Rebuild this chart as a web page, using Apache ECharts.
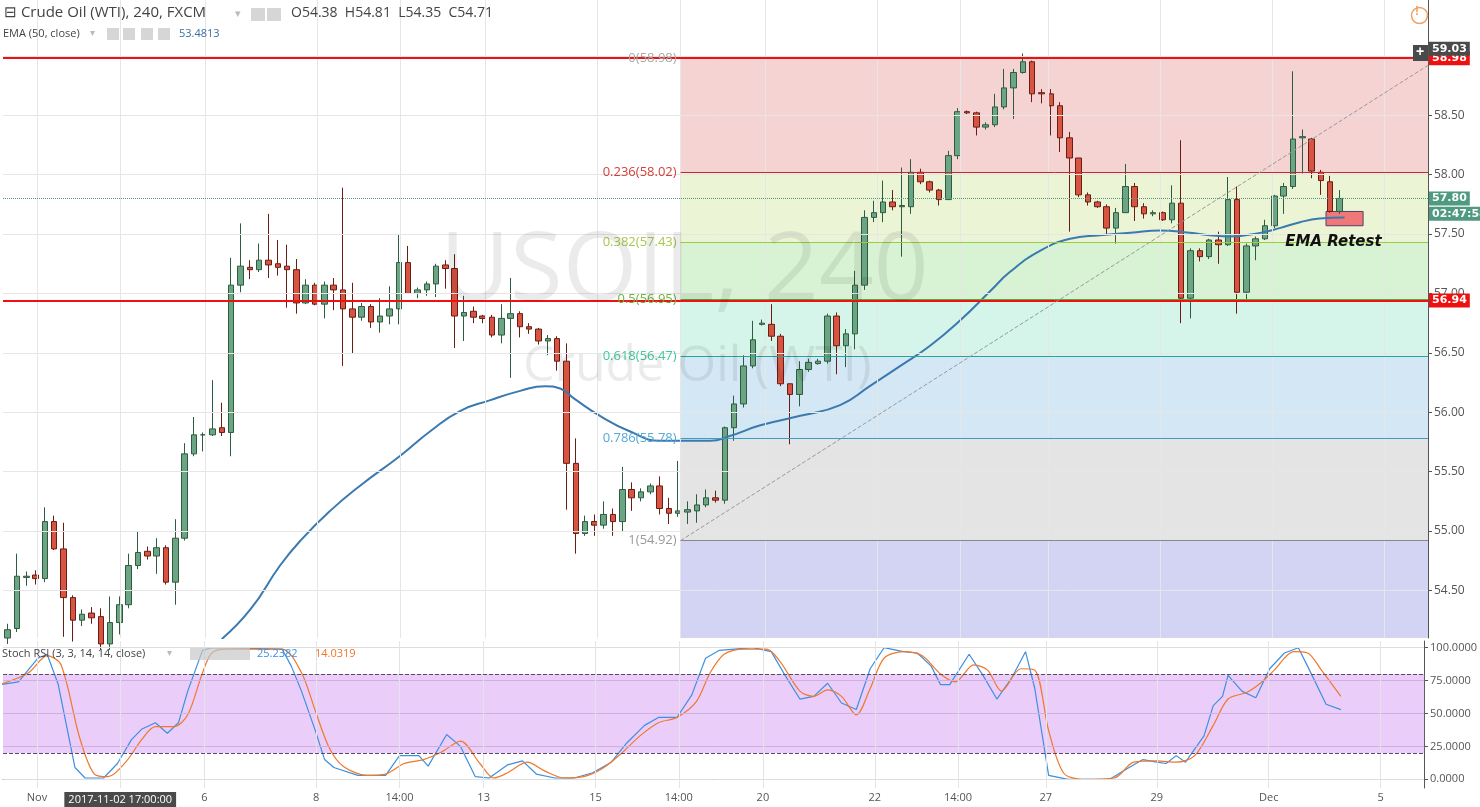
<!DOCTYPE html>
<html>
<head>
<meta charset="utf-8">
<script src="https://cdn.jsdelivr.net/npm/echarts@6/dist/echarts.min.js"></script>
<style>
  html, body { margin: 0; padding: 0; background: #fff; }
  #chart { width: 1480px; height: 807px; }
</style>
</head>
<body>
<div id="chart"></div>
<script>
var myChart = echarts.init(document.getElementById('chart'));

// 4h candles, [open, high, low, close]
var ohlc = [
  [54.10,54.22,54.05,54.17],[54.18,54.81,54.15,54.62],[54.61,54.66,54.54,54.62],[54.63,54.67,54.55,54.60],
  [54.60,55.20,54.57,55.08],[55.08,55.13,54.84,54.85],[54.85,55.07,54.11,54.44],[54.44,54.46,54.07,54.25],
  [54.25,54.34,54.20,54.30],[54.31,54.36,54.22,54.27],[54.28,54.35,54.00,54.05],[54.05,54.45,54.00,54.23],
  [54.23,54.45,54.13,54.38],[54.38,54.81,54.35,54.71],[54.71,55.00,54.68,54.82],[54.83,54.87,54.76,54.79],
  [54.79,54.94,54.64,54.86],[54.86,54.88,54.55,54.57],[54.57,55.10,54.38,54.94],[54.94,55.74,54.92,55.65],
  [55.65,55.96,55.63,55.81],[55.81,55.83,55.67,55.81],[55.81,56.27,55.80,55.86],[55.87,56.08,55.80,55.83],
  [55.83,57.30,55.63,57.07],[57.07,57.59,57.01,57.23],[57.22,57.28,57.12,57.20],[57.20,57.42,57.18,57.28],
  [57.28,57.67,57.13,57.24],[57.25,57.45,57.15,57.22],[57.23,57.41,56.88,57.20],[57.20,57.29,56.83,56.92],
  [56.92,57.12,56.91,57.07],[57.07,57.09,56.90,56.91],[56.91,57.10,56.79,57.07],[57.07,57.13,56.86,57.03],
  [57.03,57.89,56.39,56.87],[56.87,57.09,56.49,56.80],[56.80,56.92,56.77,56.89],[56.89,56.91,56.71,56.76],
  [56.76,56.96,56.67,56.81],[56.81,57.06,56.74,56.87],[56.87,57.50,56.74,57.26],[57.26,57.40,57.00,57.00],
  [57.00,57.05,56.96,57.03],[57.03,57.10,56.98,57.08],[57.08,57.25,56.97,57.23],[57.24,57.28,57.04,57.21],
  [57.21,57.33,56.54,56.81],[56.81,56.98,56.60,56.84],[56.85,56.89,56.75,56.80],[56.81,56.82,56.75,56.79],
  [56.80,56.82,56.63,56.65],[56.65,56.91,56.58,56.79],[56.79,57.13,56.29,56.83],[56.83,56.85,56.63,56.72],
  [56.72,56.75,56.66,56.70],[56.70,56.71,56.57,56.60],[56.60,56.65,56.48,56.62],[56.62,56.64,56.35,56.43],
  [56.43,56.58,55.18,55.57],[55.57,55.78,54.81,54.98],[54.98,55.13,54.96,55.08],[55.08,55.14,54.96,55.05],
  [55.05,55.25,55.02,55.14],[55.14,55.19,54.96,55.08],[55.08,55.54,55.00,55.35],[55.35,55.41,55.17,55.28],
  [55.28,55.36,55.25,55.33],[55.33,55.40,55.31,55.38],[55.38,55.46,55.14,55.19],[55.19,55.28,55.06,55.15],
  [55.15,55.59,55.12,55.17],[55.16,55.25,55.06,55.18],[55.17,55.31,55.07,55.22],[55.22,55.35,55.20,55.28],
  [55.28,55.34,55.24,55.26],[55.26,55.88,55.23,55.87],[55.87,56.14,55.76,56.07],[56.07,56.48,56.04,56.39],
  [56.39,56.77,56.37,56.61],[56.74,56.78,56.73,56.75],[56.74,56.91,56.60,56.64],[56.64,56.66,56.22,56.24],
  [56.24,56.24,55.73,56.15],[56.15,56.43,56.05,56.36],[56.36,56.45,56.34,56.42],[56.41,56.45,56.40,56.43],
  [56.43,56.83,56.41,56.81],[56.81,56.84,56.32,56.56],[56.56,56.70,56.38,56.66],[56.66,57.19,56.53,57.07],
  [57.07,57.70,57.03,57.64],[57.64,57.78,57.60,57.68],[57.68,57.95,57.60,57.77],[57.77,57.87,57.70,57.73],
  [57.73,58.06,57.31,57.74],[57.73,58.13,57.67,58.02],[58.02,58.05,57.92,57.94],[57.94,57.95,57.85,57.87],
  [57.87,57.88,57.74,57.79],[57.79,58.20,57.79,58.16],[58.16,58.56,58.13,58.53],[58.53,58.54,58.51,58.52],
  [58.52,58.53,58.33,58.40],[58.40,58.44,58.38,58.42],[58.42,58.68,58.40,58.57],[58.57,58.89,58.55,58.73],
  [58.73,58.89,58.47,58.86],[58.86,59.02,58.85,58.95],[58.95,58.96,58.61,58.68],[58.69,58.72,58.60,58.68],
  [58.68,58.72,58.33,58.58],[58.58,58.61,58.19,58.31],[58.31,58.36,57.52,58.14],[58.14,58.14,57.81,57.83],
  [57.83,57.85,57.74,57.77],[57.77,57.78,57.72,57.73],[57.73,57.75,57.50,57.55],[57.55,57.72,57.42,57.68],
  [57.68,58.09,57.68,57.90],[57.90,57.93,57.61,57.73],[57.73,57.76,57.63,57.67],[57.67,57.70,57.65,57.68],
  [57.68,57.69,57.61,57.62],[57.62,57.91,57.59,57.76],[57.76,58.29,56.75,56.96],[56.96,57.38,56.79,57.36],
  [57.36,57.38,57.27,57.31],[57.31,57.46,57.29,57.45],[57.45,57.52,57.25,57.41],[57.41,57.98,57.40,57.79],
  [57.79,57.90,56.83,57.01],[57.01,57.42,56.95,57.40],[57.40,57.48,57.28,57.46],[57.46,57.62,57.45,57.57],
  [57.57,57.83,57.55,57.82],[57.82,57.93,57.67,57.90],[57.90,58.87,57.88,58.30],[58.31,58.38,58.01,58.32],
  [58.30,58.31,57.97,58.03],[58.02,58.04,57.83,57.95],[57.94,57.99,57.68,57.69],[57.69,57.87,57.67,57.80]
];
var barCount = 153;

// EMA(50): [bar position, price]
var ema = [
  [23.9,54.09],[27.0,54.34],[30.2,54.71],[32.4,54.92],[35.6,55.17],[38.8,55.38],[43.1,55.63],[46.4,55.84],
  [49.6,56.01],[52.8,56.10],[56.1,56.18],[58.8,56.22],[60.4,56.20],[62.0,56.11],[64.7,55.97],[67.9,55.84],
  [71.2,55.76],[74.4,55.76],[76.6,55.76],[78.7,55.80],[82.0,55.89],[86.3,55.97],[90.6,56.06],[93.8,56.22],
  [97.1,56.39],[100.3,56.56],[103.5,56.77],[106.8,57.02],[108.9,57.18],[112.2,57.36],[115.4,57.46],[118.6,57.49],
  [121.9,57.51],[125.1,57.53],[128.3,57.51],[130.5,57.49],[132.6,57.48],[135.9,57.51],[138.0,57.55],[140.2,57.60],
  [142.3,57.63],[145.0,57.64]
];

// Stoch RSI K (blue) and D (orange): [bar position, value]
var stochK = [
  [0,72],[2.0,74],[4.1,92],[5.1,95],[6.3,72],[8.1,9],[9.2,1],[11.2,1],[12.7,12],[14.2,30],[15.3,38],[16.8,43],
  [18.1,35],[19.3,43],[20.3,67],[21.9,98],[22.9,100],[30.5,99],[31.5,86],[32.6,67],[34.1,37],[35.1,15],[36.1,9],
  [38.7,3],[41.7,3],[43.2,18],[45.3,18],[46.3,10],[48.3,34],[49.8,25],[51.4,2],[52.9,1],[54.9,11],[56.5,14],
  [58.0,4],[60.0,1],[62.1,1],[64.1,5],[66.1,13],[67.7,27],[69.7,41],[71.2,47],[73.2,47],[74.8,64],[76.3,92],
  [77.8,98],[81.4,100],[83.4,97],[84.9,79],[86.5,61],[88.0,63],[89.5,73],[91.0,58],[92.6,53],[94.1,84],[95.6,100],
  [97.7,97],[99.2,96],[100.7,86],[101.7,72],[102.7,72],[104.8,95],[106.3,79],[107.8,61],[109.4,77],[110.9,97],
  [111.9,69],[113.4,3],[115.5,0],[120.0,0],[122.1,9],[123.6,15],[125.1,13],[126.1,12],[127.2,18],[128.2,13],
  [130.2,33],[131.2,56],[132.2,63],[132.8,79],[134.3,67],[135.8,62],[137.3,84],[138.9,96],[140.4,100],[141.4,86],
  [143.4,57],[145.0,53]
];
var stochD = [
  [0,72],[3.1,81],[5.1,94],[6.6,87],[8.6,32],[10.2,4],[11.7,2],[13.7,14],[15.3,30],[16.8,40],[18.8,40],[20.3,49],
  [21.9,81],[22.9,96],[24.4,99],[30.5,99],[32.6,81],[34.1,52],[35.6,24],[37.1,10],[39.7,3],[41.7,4],[43.7,12],
  [45.8,15],[47.8,21],[49.8,29],[51.9,12],[53.4,1],[54.9,5],[57.0,13],[59.0,6],[61.0,1],[63.1,2],[65.1,8],[67.1,19],
  [69.2,33],[71.2,43],[73.2,47],[75.3,59],[76.8,81],[78.3,95],[80.4,99],[82.9,99],[84.4,89],[86.5,67],[88.0,63],
  [89.5,68],[91.0,63],[92.6,49],[94.1,69],[95.6,92],[97.7,97],[99.7,94],[101.7,80],[103.3,74],[105.3,87],[106.8,83],
  [108.3,67],[110.4,84],[111.9,83],[113.4,37],[115.0,5],[117.0,0],[120.5,1],[122.6,13],[125.1,14],[127.2,13],
  [129.2,18],[131.2,41],[132.8,61],[134.8,66],[136.3,73],[137.8,83],[139.9,97],[141.4,96],[142.9,83],[145.0,63]
];

// Fibonacci retracement
var fibLevels = [0, 0.236, 0.382, 0.5, 0.618, 0.786, 1];
var fibPrices = [58.98, 58.02, 57.43, 56.95, 56.47, 55.78, 54.92];
var fibColors = ['#e57373', '#c62828', '#9ccc3c', '#5aa83a', '#26a69a', '#3d9bc8', '#888888'];
var fibLabelColors = ['#a9a9a9', '#d0413a', '#a8c84a', '#6cb33f', '#3ec9a0', '#55a8d8', '#9a9a9a'];
var fibZones = ['#f5d3d3', '#ebf5d6', '#d7f3d3', '#d5f4ea', '#d3e8f4', '#e4e4e4', '#d3d3f4'];
var fibStart = 73.4;
var priceMin = 54.10, priceMax = 59.47;

var priceTicks = [54.5, 55, 55.5, 56, 56.5, 57, 57.5, 58, 58.5, 59];
var stochTicks = [0, 25, 50, 75, 100];
var tickPos = [4.0, 13.0, 22.1, 34.2, 43.2, 52.3, 64.4, 73.4, 82.5, 94.6, 103.6, 113.1, 125.1, 137.2, 149.3];
var tickText = ['Nov', '2017-11-02 17:00:00', '6', '8', '14:00', '13', '15', '14:00', '20', '22', '14:00', '27', '29', 'Dec', '5'];

var categories = [];
for (let i = 0; i < barCount; i++) categories.push(String(i));

var candleData = ohlc.map(function (r) { return [r[0], r[3], r[2], r[1]]; });

var zoneAreas = [];
for (let i = 0; i < fibPrices.length; i++) {
    var lower = i < fibPrices.length - 1 ? fibPrices[i + 1] : priceMin;
    zoneAreas.push([
        { coord: [fibStart, fibPrices[i]], itemStyle: { color: fibZones[i] } },
        { coord: [154, lower] }
    ]);
}
var fibLines = fibPrices.map(function (p, i) {
    return [
        { coord: [fibStart, p], lineStyle: { color: fibColors[i], width: 1, type: 'solid' },
          label: { show: true, position: 'start', distance: 4, color: fibLabelColors[i], fontSize: 13,
                   formatter: fibLevels[i] + '(' + p.toFixed(2) + ')' } },
        { coord: [154, p] }
    ];
});
var gridLinesH = priceTicks.map(function (p) {
    return { yAxis: p, lineStyle: { color: '#e6e6e6', width: 1, type: 'solid' }, label: { show: false } };
});
var gridLinesV = tickPos.map(function (x) {
    return { xAxis: x, lineStyle: { color: '#e6e6e6', width: 1, type: 'solid' }, label: { show: false } };
});
var stochGridH = stochTicks.map(function (v) {
    return { yAxis: v, lineStyle: { color: v === 0 || v === 100 ? '#dddddd' : '#cdb0e0', width: 1, type: 'solid' }, label: { show: false } };
});

function priceTag(value, text, bg) {
    return [
        { coord: [153.9, value], lineStyle: { color: 'rgba(0,0,0,0)', width: 0 },
          label: { show: true, position: 'end', distance: 1, formatter: text, backgroundColor: bg, color: '#fff',
                   fontSize: 11, fontWeight: 'bold', padding: [2, 3, 1, 3], fontFamily: 'DejaVu Sans' } },
        { coord: [154, value] }
    ];
}

var option = {
    animation: false,
    textStyle: { fontFamily: 'Open Sans, DejaVu Sans' },
    grid: [
        { left: 3, right: 52, top: 0, height: 638 },
        { left: 3, right: 52, top: 641, height: 152 }
    ],
    xAxis: [
        { type: 'category', gridIndex: 0, data: categories, boundaryGap: true, show: false },
        { type: 'value', gridIndex: 0, min: 3 / 9.273, max: 154, show: false },
        { type: 'value', gridIndex: 1, min: 3 / 9.273, max: 154,
          axisLine: { show: true, lineStyle: { color: '#555' } },
          axisTick: { show: false }, splitLine: { show: false },
          axisLabel: {
              customValues: tickPos, color: '#555', fontSize: 11, margin: 4,
              formatter: function (v) {
                  var k = tickPos.indexOf(v);
                  if (k === 1) return '{hl|' + tickText[k] + '}';
                  return k >= 0 ? tickText[k] : '';
              },
              rich: { hl: { backgroundColor: '#4a4a4a', color: '#fff', padding: [2, 4, 2, 4], fontSize: 11 } }
          } }
    ],
    yAxis: [
        { type: 'value', gridIndex: 0, position: 'right', min: priceMin, max: priceMax, scale: true,
          axisLine: { show: true, lineStyle: { color: '#555' } },
          axisTick: { show: true, length: 4, customValues: priceTicks, lineStyle: { color: '#555' } },
          splitLine: { show: false },
          axisLabel: { customValues: priceTicks, color: '#555', fontSize: 12, margin: 6,
                       formatter: function (v) { return v.toFixed(2); } } },
        { type: 'value', gridIndex: 1, position: 'right', min: -6.6, max: 105.1,
          axisLine: { show: true, lineStyle: { color: '#555' } },
          axisTick: { show: true, length: 4, customValues: stochTicks, lineStyle: { color: '#555' } },
          splitLine: { show: false },
          axisLabel: { customValues: stochTicks, color: '#555', fontSize: 11, margin: 6,
                       formatter: function (v) { return v.toFixed(4); } } }
    ],
    series: [
        {
            name: 'fib', type: 'line', xAxisIndex: 1, yAxisIndex: 0, data: [], z: 0,
            markArea: { silent: true, data: zoneAreas },
            markLine: { silent: true, symbol: 'none', data: gridLinesH.concat(gridLinesV).concat(fibLines) }
        },
        {
            name: 'levels', type: 'line', xAxisIndex: 1, yAxisIndex: 0, data: [], z: 2,
            markLine: {
                silent: true, symbol: 'none',
                data: [
                    { yAxis: 58.98, lineStyle: { color: '#ee1111', width: 2, type: 'solid' }, label: { show: false } },
                    { yAxis: 56.94, lineStyle: { color: '#ee1111', width: 2, type: 'solid' }, label: { show: false } },
                    { yAxis: 57.80, lineStyle: { color: '#4f9a80', width: 1, type: 'dotted' }, label: { show: false } },
                    [{ coord: [fibStart, 54.92], lineStyle: { color: '#999', width: 1, type: 'dashed' }, label: { show: false } },
                     { coord: [154, 58.92] }]
                ]
            },
            markArea: {
                silent: true,
                data: [[{ coord: [143.0, 57.69], itemStyle: { color: '#f07878', borderColor: '#5a3d6b', borderWidth: 1 } },
                        { coord: [147.0, 57.57] }]]
            }
        },
        {
            name: 'USOIL', type: 'candlestick', xAxisIndex: 0, yAxisIndex: 0, data: candleData, z: 3,
            barWidth: 6,
            itemStyle: { color: '#6ba583', color0: '#d75442', borderColor: '#2e5c40', borderColor0: '#6b1d14', borderWidth: 1 }
        },
        {
            name: 'EMA', type: 'line', xAxisIndex: 1, yAxisIndex: 0, data: ema, smooth: true, symbol: 'none', z: 4,
            lineStyle: { color: '#3a7ab0', width: 2 },
            markPoint: {
                silent: true, symbol: 'rect', symbolSize: 0,
                data: [{ coord: [143.8, 57.43], label: { show: true, formatter: 'EMA Retest', color: '#111', fontSize: 15,
                         fontWeight: 'bold', fontStyle: 'italic', fontFamily: 'DejaVu Sans' } }]
            }
        },
        {
            name: 'tags', type: 'line', xAxisIndex: 1, yAxisIndex: 0, data: [], z: 10,
            markLine: {
                silent: true, symbol: 'none',
                data: [
                    priceTag(58.98, '58.98', '#ee1111'),
                    priceTag(59.06, '59.03', '#4a4a4a'),
                    priceTag(56.94, '56.94', '#ee1111'),
                    priceTag(57.80, '57.80', '#4f9a80'),
                    priceTag(57.67, '02:47:58', '#4f9a80')
                ]
            }
        },
        {
            name: 'band', type: 'line', xAxisIndex: 2, yAxisIndex: 1, data: [], z: 0,
            markArea: { silent: true, data: [[{ yAxis: 80, itemStyle: { color: '#ebcdfa' } }, { yAxis: 20 }]] },
            markLine: {
                silent: true, symbol: 'none',
                data: stochGridH.concat(tickPos.map(function (x) {
                    return { xAxis: x, lineStyle: { color: '#e4e4e4', width: 1, type: 'solid' }, label: { show: false } };
                })).concat([
                    { yAxis: 80, lineStyle: { color: '#5a4a6a', width: 1, type: 'dashed' }, label: { show: false } },
                    { yAxis: 20, lineStyle: { color: '#5a4a6a', width: 1, type: 'dashed' }, label: { show: false } }
                ])
            }
        },
        { name: 'K', type: 'line', xAxisIndex: 2, yAxisIndex: 1, data: stochK, symbol: 'none', z: 3,
          lineStyle: { color: '#3d8fe0', width: 1.2 } },
        { name: 'D', type: 'line', xAxisIndex: 2, yAxisIndex: 1, data: stochD, symbol: 'none', smooth: 0.3, z: 3,
          lineStyle: { color: '#f0782a', width: 1.2 } }
    ],
    graphic: [
        { type: 'text', left: 440, top: 225, z: 100, silent: true,
          style: { text: 'USOIL, 240', fontSize: 96, fill: 'rgba(0,0,0,0.08)', fontFamily: 'Open Sans' } },
        { type: 'text', left: 523, top: 342, z: 100, silent: true,
          style: { text: 'Crude Oil (WTI)', fontSize: 50, fill: 'rgba(0,0,0,0.08)', fontFamily: 'Open Sans' } },
        { type: 'text', left: 4, top: 5, z: 20,
          style: { text: '⊟ Crude Oil (WTI), 240, FXCM', fontSize: 15, fill: '#444', fontFamily: 'Open Sans' } },
        { type: 'text', left: 235, top: 8, z: 20, style: { text: '▾', fontSize: 11, fill: '#bbb' } },
        { type: 'rect', left: 251, top: 8, z: 20, shape: { width: 14, height: 13 }, style: { fill: '#d6d6d6' } },
        { type: 'rect', left: 267, top: 8, z: 20, shape: { width: 14, height: 13 }, style: { fill: '#d6d6d6' } },
        { type: 'text', left: 291, top: 6, z: 20,
          style: { text: 'O54.38  H54.81  L54.35  C54.71', fontSize: 14, fill: '#444', fontFamily: 'Open Sans' } },
        { type: 'text', left: 3, top: 28, z: 20,
          style: { text: 'EMA (50, close)', fontSize: 11, fill: '#444', fontFamily: 'Open Sans' } },
        { type: 'text', left: 90, top: 28, z: 20, style: { text: '▾', fontSize: 10, fill: '#bbb' } },
        { type: 'rect', left: 107, top: 28, z: 20, shape: { width: 12, height: 12 }, style: { fill: '#d6d6d6' } },
        { type: 'rect', left: 123, top: 28, z: 20, shape: { width: 12, height: 12 }, style: { fill: '#d6d6d6' } },
        { type: 'rect', left: 141, top: 28, z: 20, shape: { width: 12, height: 12 }, style: { fill: '#d6d6d6' } },
        { type: 'rect', left: 158, top: 28, z: 20, shape: { width: 12, height: 12 }, style: { fill: '#d6d6d6' } },
        { type: 'text', left: 179, top: 28, z: 20,
          style: { text: '53.4813', fontSize: 11, fill: '#3a6fa0', fontFamily: 'Open Sans' } },
        { type: 'text', left: 2, top: 648, z: 20,
          style: { text: 'Stoch RSI (3, 3, 14, 14, close)', fontSize: 11, fill: '#444', fontFamily: 'Open Sans' } },
        { type: 'text', left: 167, top: 648, z: 20, style: { text: '▾', fontSize: 10, fill: '#bbb' } },
        { type: 'rect', left: 190, top: 648, z: 20, shape: { width: 60, height: 12 }, style: { fill: 'rgba(200,200,200,0.7)' } },
        { type: 'text', left: 257, top: 648, z: 20,
          style: { text: '25.2382', fontSize: 11, fill: '#3d8fe0', fontFamily: 'Open Sans' } },
        { type: 'text', left: 315, top: 648, z: 20,
          style: { text: '14.0319', fontSize: 11, fill: '#f0782a', fontFamily: 'Open Sans' } },
        { type: 'circle', left: 1409, top: 5, z: 20, shape: { r: 8 }, style: { fill: 'none', stroke: '#f0a060', lineWidth: 1.5 } },
        { type: 'text', left: 1415, top: 6, z: 20, style: { text: '!', fontSize: 12, fontWeight: 'bold', fill: '#f0a060' } },
        { type: 'rect', left: 1413, top: 45, z: 20, shape: { width: 15, height: 16 }, style: { fill: '#4a4a4a' } },
        { type: 'text', left: 1416, top: 45, z: 21, style: { text: '+', fontSize: 14, fill: '#fff', fontWeight: 'bold' } }
    ]
};
myChart.setOption(option);
</script>
</body>
</html>
